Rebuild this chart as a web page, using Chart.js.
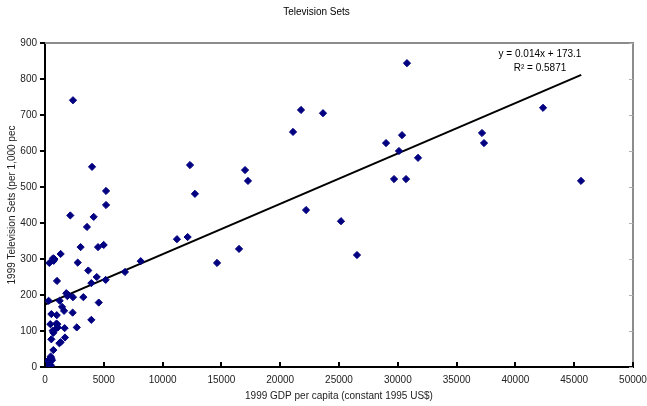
<!DOCTYPE html>
<html lang="en">
  <head>
    <meta charset="UTF-8" />
    <title>Television Sets</title>
    <style>
      html, body { margin: 0; padding: 0; background: #fff; }
      #wrap { width: 647px; height: 406px; }
    </style>
  </head>
  <body>
    <div id="wrap"><canvas id="tv"></canvas></div>

    <script src="https://cdn.jsdelivr.net/npm/chart.js"></script>

    <script>
      // 1999 GDP per capita (constant 1995 US$)
      const gdp = [
        2380, 4000, 5190, 5190, 12330, 12750,
        30780, 21770, 23640, 21090, 17010, 17260, 29000, 30360, 30100, 31720, 29680, 30700, 22200, 25170, 16500, 14630, 26530,
        42350, 37160, 37330, 45580,
        4140, 2150, 3570, 3030, 4510, 4990, 11220, 12130, 8140, 6800, 4400, 3680, 3940, 5160, 1330, 680, 740, 370, 2780, 1020,
        310, 1250, 1810, 2380, 3260, 1900, 1450, 1620, 2350, 4570, 540, 450, 1050, 1670, 2700, 3940, 650, 540, 1330, 710, 480, 400, 260, 600,
        100, 150, 200, 300, 350, 500, 550, 250, 180, 420, 120, 1700, 1100, 900, 1000, 710, 1220, 2000, 800, 950
      ];
      // 1999 Television sets per 1,000 people
      const tvSets = [
        741, 556, 489, 450, 561, 481,
        844, 714, 705, 653, 547, 517, 622, 644, 600, 581, 522, 522, 436, 405, 328, 289, 311,
        720, 650, 622, 517,
        417, 421, 389, 333, 333, 339, 355, 361, 294, 264, 250, 268, 233, 242, 314, 302, 295, 289, 290, 239,
        184, 184, 205, 194, 194, 197, 167, 156, 151, 179, 147, 119, 119, 108, 110, 131, 101, 77, 69, 47, 29, 14, 6, 19,
        3, 8, 2, 12, 20, 5, 24, 16, 0, 22, 12, 82, 110, 105, 144, 95, 66, 200, 300, 120
      ];

      // linear trendline as printed on the chart
      const trendSlope = 0.014;
      const trendIntercept = 173.1;
      const trendX = [0, 45600];
      const trendText = ['y = 0.014x + 173.1', 'R\u00b2 = 0.5871'];

      const xTicks = [0, 5000, 10000, 15000, 20000, 25000, 30000, 35000, 40000, 45000, 50000];
      const yTicks = [0, 100, 200, 300, 400, 500, 600, 700, 800, 900];

      const points = gdp.map((g, i) => ({ x: g, y: tvSets[i] }));
      const trend = trendX.map((x) => ({ x: x, y: trendSlope * x + trendIntercept }));

      const font = 'Liberation Sans, Arial, sans-serif';

      // frame, tick marks and trendline label
      const framePlugin = {
        id: 'frame',
        afterDraw(chart) {
          const ctx = chart.ctx;
          const a = chart.chartArea;
          const xs = chart.scales.x;
          const ys = chart.scales.y;
          ctx.save();
          // grey top / right border
          ctx.strokeStyle = '#8c8c8c';
          ctx.lineWidth = 2;
          ctx.beginPath();
          ctx.moveTo(a.left, a.top);
          ctx.lineTo(a.right, a.top);
          ctx.lineTo(a.right, a.bottom);
          ctx.stroke();
          // small ticks on right border
          ctx.lineWidth = 1;
          ctx.strokeStyle = '#b0b0b0';
          yTicks.forEach((v) => {
            const y = Math.round(ys.getPixelForValue(v)) + 0.5;
            ctx.beginPath();
            ctx.moveTo(a.right - 4, y);
            ctx.lineTo(a.right, y);
            ctx.stroke();
          });
          // black ticks
          ctx.strokeStyle = '#000';
          ctx.lineWidth = 2;
          yTicks.forEach((v) => {
            const y = Math.round(ys.getPixelForValue(v));
            ctx.beginPath();
            ctx.moveTo(a.left - 5, y);
            ctx.lineTo(a.left, y);
            ctx.stroke();
          });
          xTicks.forEach((v) => {
            const x = Math.round(xs.getPixelForValue(v));
            ctx.beginPath();
            ctx.moveTo(x, a.bottom);
            ctx.lineTo(x, a.bottom - 5);
            ctx.stroke();
          });
          // trendline equation
          ctx.fillStyle = '#000';
          ctx.font = '10px ' + font;
          ctx.textAlign = 'center';
          ctx.textBaseline = 'middle';
          ctx.fillText(trendText[0], 540, 54);
          ctx.fillText(trendText[1], 540, 68);
          ctx.restore();
        },
      };

      const config = {
        type: 'scatter',
        data: {
          datasets: [
            {
              label: 'TV sets',
              data: points,
              pointStyle: 'rectRot',
              pointRadius: 3.6,
              backgroundColor: '#000080',
              borderColor: '#000080',
              borderWidth: 1,
            },
            {
              type: 'line',
              label: 'Linear',
              data: trend,
              borderColor: '#000',
              borderWidth: 2,
              pointRadius: 0,
              fill: false,
            },
          ],
        },
        plugins: [framePlugin],
        options: {
          responsive: true,
          maintainAspectRatio: false,
          animation: false,
          layout: { padding: { left: 0, right: 14, top: 0, bottom: 0 } },
          plugins: {
            legend: { display: false },
            tooltip: { enabled: false },
            title: {
              display: true,
              text: 'Television Sets',
              color: '#000',
              font: { family: font, size: 10, weight: 'normal', lineHeight: 1.2 },
              padding: { top: 6, bottom: 25 },
            },
          },
          scales: {
            x: {
              type: 'linear',
              min: 0,
              max: 50000,
              afterFit(scale) {
                scale.height = 39;
                scale.paddingLeft = 0;
                scale.paddingRight = 0;
              },
              afterBuildTicks(scale) { scale.ticks = xTicks.map((v) => ({ value: v })); },
              grid: { display: true, drawOnChartArea: false, drawTicks: false },
              border: { display: true, color: '#000', width: 2 },
              ticks: {
                color: '#222',
                font: { family: font, size: 10 },
                padding: 7,
                maxRotation: 0,
                callback: (v) => String(v),
              },
              title: {
                display: true,
                text: '1999 GDP per capita (constant 1995 US$)',
                color: '#222',
                font: { family: font, size: 10 },
                padding: { top: 2, bottom: 4 },
              },
            },
            y: {
              type: 'linear',
              min: 0,
              max: 900,
              afterFit(scale) { scale.width = 45; },
              afterBuildTicks(scale) { scale.ticks = yTicks.map((v) => ({ value: v })); },
              grid: { display: true, drawOnChartArea: false, drawTicks: false },
              border: { display: true, color: '#000', width: 2 },
              ticks: {
                color: '#222',
                font: { family: font, size: 10 },
                padding: 8,
                callback: (v) => String(v),
              },
              title: {
                display: true,
                text: '1999 Television Sets (per 1,000 pec',
                color: '#222',
                font: { family: font, size: 10 },
                padding: { top: 6, bottom: 2 },
              },
            },
          },
        },
      };

      const tvChart = new Chart(document.getElementById('tv'), config);
    </script>
  </body>
</html>
